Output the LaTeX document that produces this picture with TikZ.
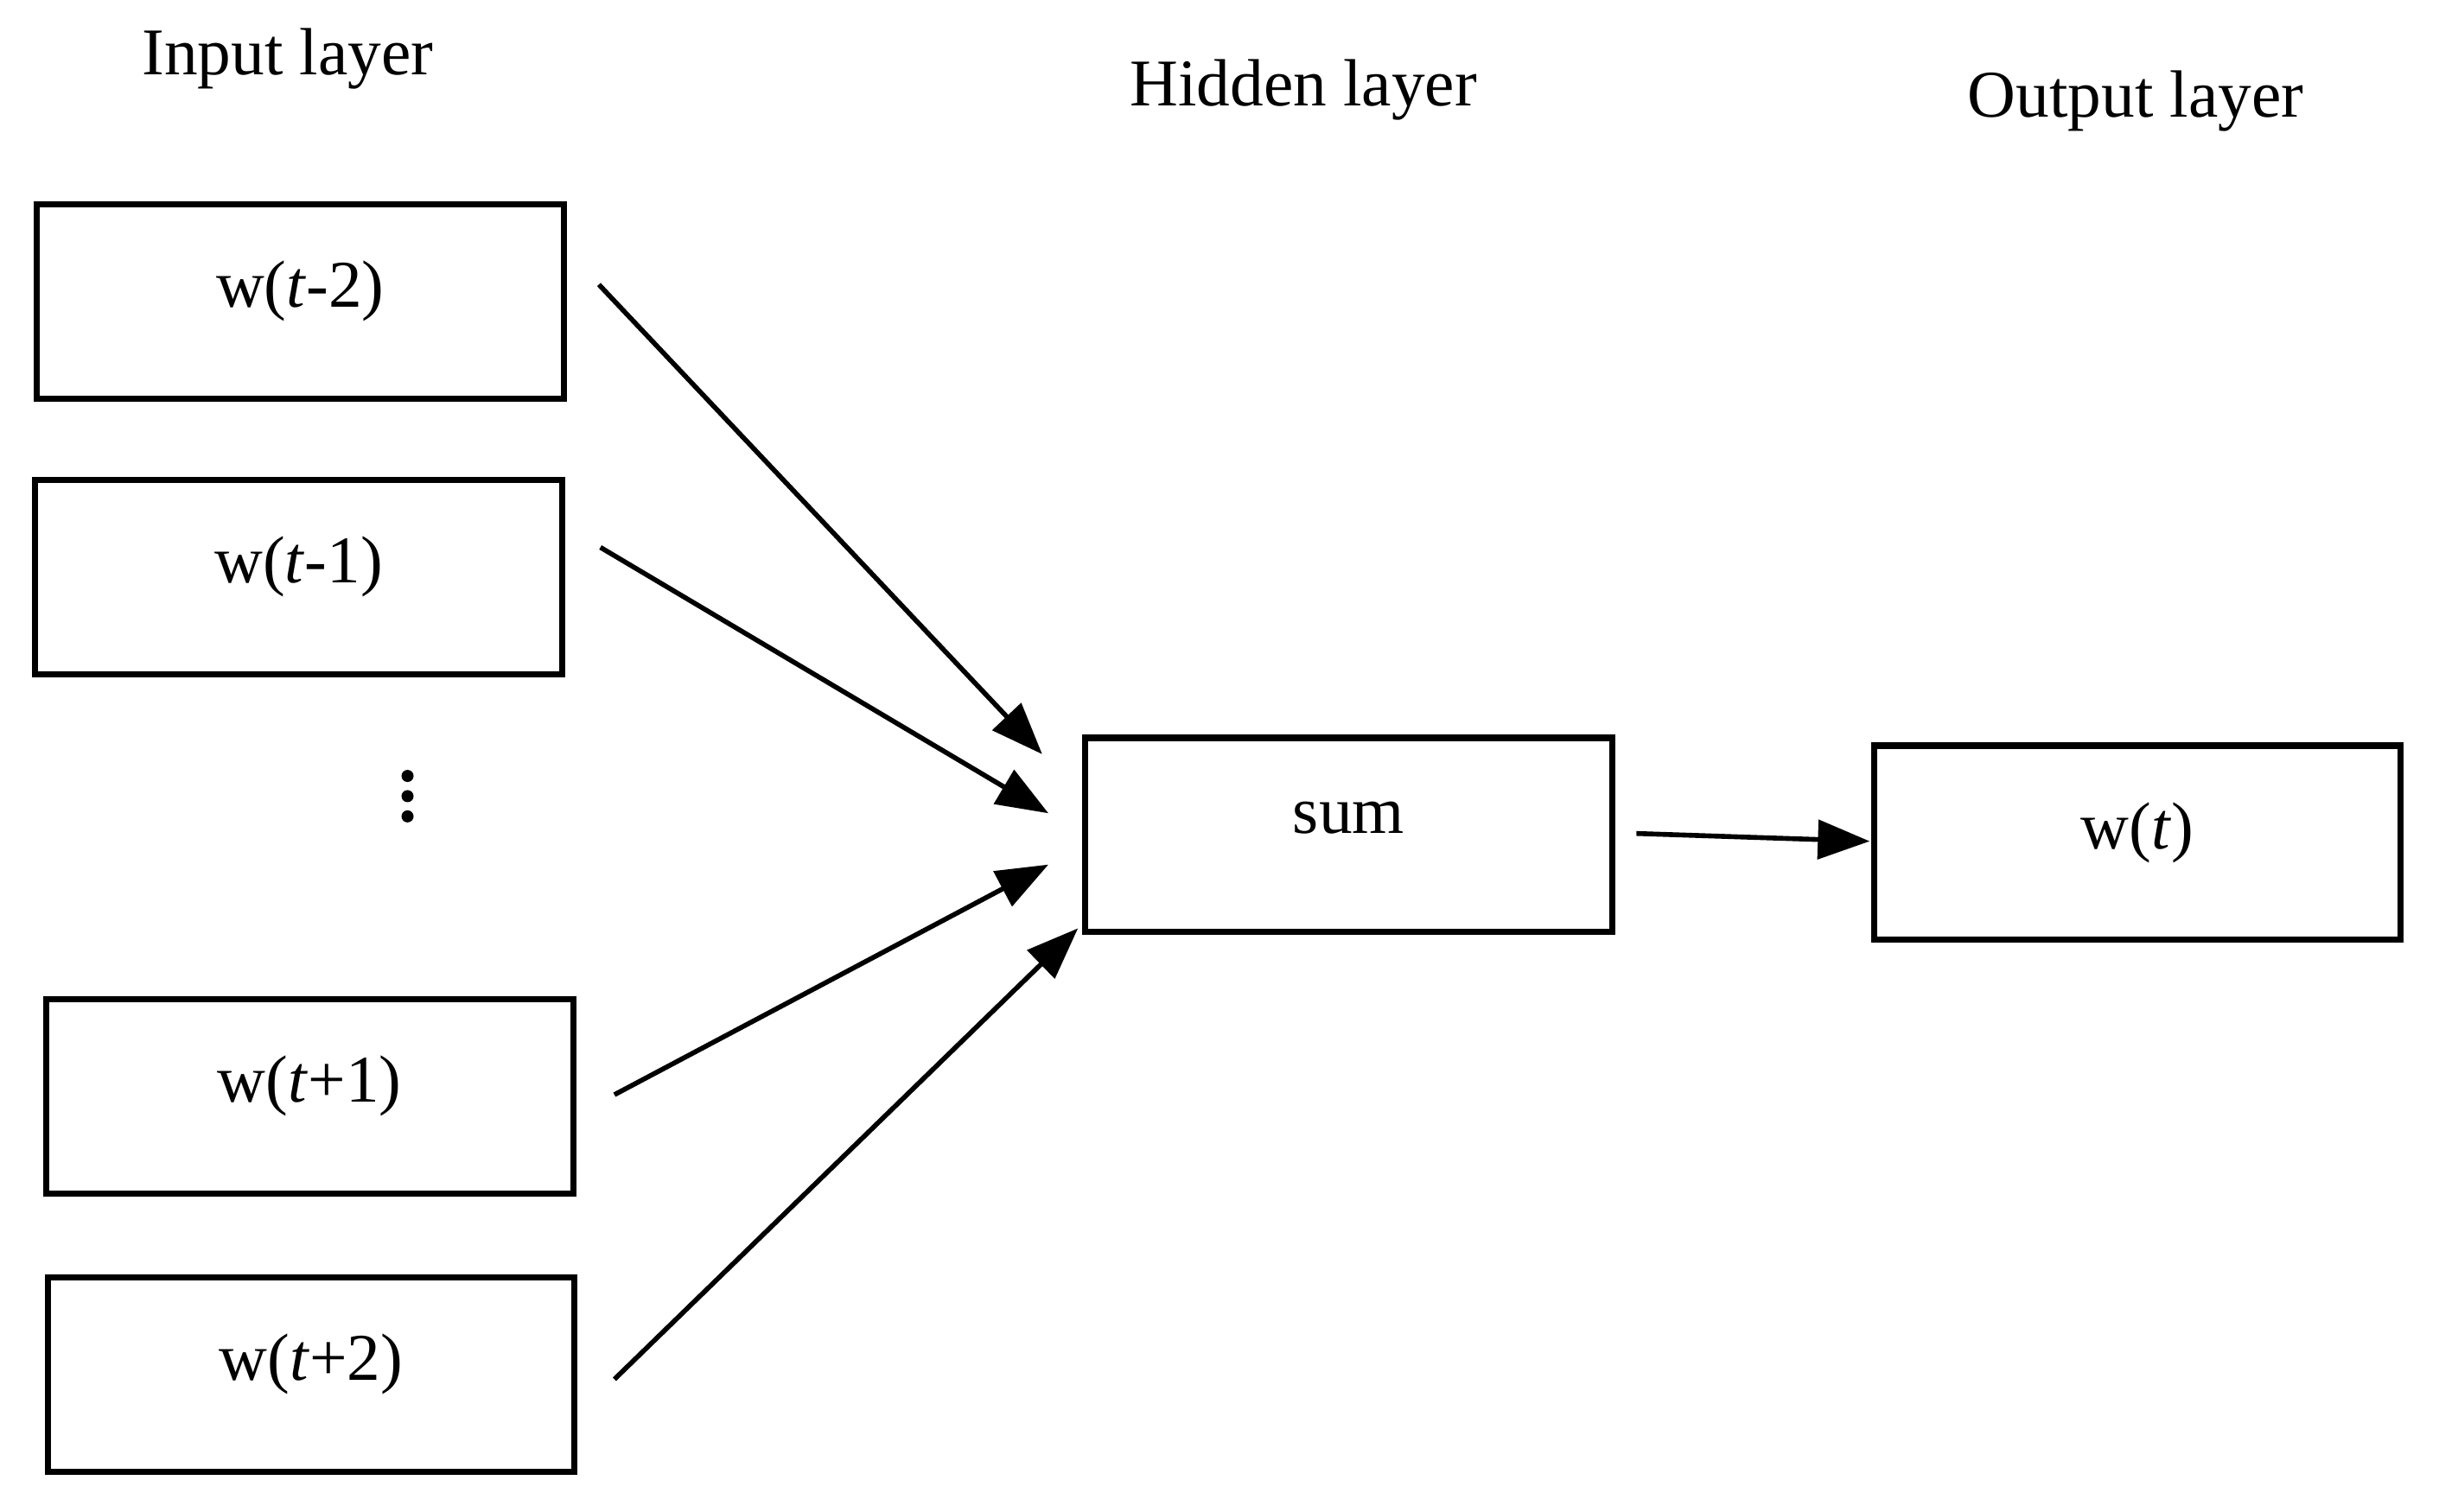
\documentclass[tikz,border=0pt]{standalone}
\usepackage{fontspec}
\setmainfont{Liberation Serif}
\usetikzlibrary{arrows.meta}
\tikzset{
  box/.style={draw, line width=2pt, minimum width=6.1cm, minimum height=2.25cm, inner sep=0pt},
  con/.style={line width=1.6pt, -{Triangle[length=0.6cm, width=0.45cm]}}
}
\newcommand{\up}[1]{\raisebox{0.4cm}{#1}}
\begin{document}
\begin{tikzpicture}[x=0.018cm, y=-0.018cm, font=\fontsize{22}{26}\selectfont]
\useasboundingbox (0,0) rectangle (1568,972);
% layer titles
\node (tin) at (185,38) {Input layer};
\node (thid) at (838,58) {Hidden layer};
\node (tout) at (1373,65) {Output layer};
% boxes
\node [box] (wm2) at (193,194) {\up{w(\textit{t}-2)}};
\node [box] (wm1) at (192,371) {\up{w(\textit{t}-1)}};
\coordinate (dots) at (262,512);
\foreach \d in {-13,0,13}
  \fill ([yshift=\d*0.018cm]dots) circle (0.07cm);
\node [box] (wp1) at (199,705) {\up{w(\textit{t}+1)}};
\node [box] (wp2) at (200,884) {\up{w(\textit{t}+2)}};
\node [box] (sum) at (867,537) {\up{sum}};
\node [box] (wt) at (1374,542) {\up{w(\textit{t})}};
% connector ends
\coordinate (a1) at (385,183); \coordinate (b1) at (670,485);
\coordinate (a2) at (386,352); \coordinate (b2) at (674,523);
\coordinate (a3) at (395,704); \coordinate (b3) at (674,556);
\coordinate (a4) at (395,887); \coordinate (b4) at (693,597);
\coordinate (a5) at (1052,536); \coordinate (b5) at (1202,541);
\foreach \i in {1,...,5}
  \draw [con] (a\i) -- (b\i);
\end{tikzpicture}
\end{document}
